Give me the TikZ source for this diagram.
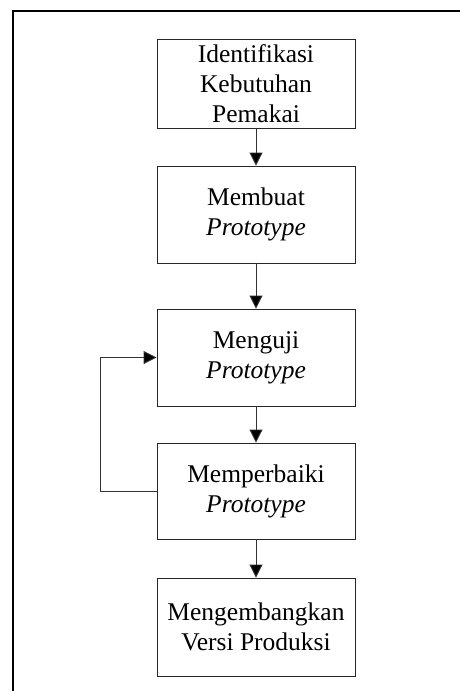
\documentclass[tikz,border=0pt]{standalone}
\usepackage{fontspec}
\setmainfont{Liberation Serif}
\usetikzlibrary{arrows.meta}
\begin{document}
\begin{tikzpicture}[x=1pt,y=-1pt,
  stepbox/.style={draw=black!85, line width=0.9pt, minimum width=198pt, inner sep=0pt,
    align=center, font=\fontsize{25.5}{30}\selectfont},
  arr/.style={draw=black!80, line width=0.9pt, -{Triangle[length=13pt,width=13pt,fill=black]}},
  frame/.style={draw=black, line width=2pt}]
\useasboundingbox (0,0) rectangle (460,691);
\coordinate (fc) at (12.7,10.7);
\coordinate (fr) at (461,10.7);
\coordinate (fb) at (12.7,692);
\draw[frame] (fr) -- (fc) -- (fb);
\node[stepbox, minimum height=89pt] (b1) at (256,83.5) {Identifikasi\\Kebutuhan\\Pemakai};
\node[stepbox, minimum height=97pt] (b2) at (256,214.5) {Membuat\\\textit{Prototype}};
\node[stepbox, minimum height=97pt] (b3) at (256,357.5) {Menguji\\\textit{Prototype}};
\node[stepbox, minimum height=96pt] (b4) at (256,491) {Memperbaiki\\\textit{Prototype}};
\node[stepbox, minimum height=98pt] (b5) at (256,627) {Mengembangkan\\Versi Produksi};
\draw[arr] (b1) -- (b2);
\draw[arr] (b2) -- (b3);
\draw[arr] (b3) -- (b4);
\draw[arr] (b4) -- (b5);
\draw[arr] (b4.west) -- ++(-56,0) |- (b3.west);
\end{tikzpicture}
\end{document}
